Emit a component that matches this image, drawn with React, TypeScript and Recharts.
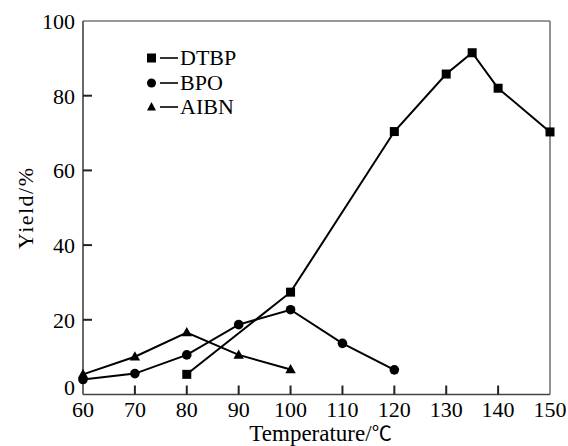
import { Line, LineChart, ReferenceLine, XAxis, YAxis } from "recharts";

const xTicks = [60, 70, 80, 90, 100, 110, 120, 130, 140, 150];
const yTicks = [0, 20, 40, 60, 80, 100];

const dtbpTemps = [80, 100, 120, 130, 135, 140, 150];
const dtbpYield = [5.4, 27.4, 70.4, 85.8, 91.5, 82, 70.3];

const bpoTemps = [60, 70, 80, 90, 100, 110, 120];
const bpoYield = [4, 5.6, 10.6, 18.7, 22.7, 13.7, 6.6];

const aibnTemps = [60, 70, 80, 90, 100];
const aibnYield = [5.4, 10.1, 16.6, 10.6, 6.7];

const toRows = (temps: number[], ys: number[]) =>
  temps.map((t, i) => ({ t, y: ys[i] }));

const FONT = "'Liberation Serif', 'Times New Roman', serif";
const AXIS = "#444";
const GAP_X = 14;
const GAP_Y = 8;
const FS = 22;

// ticks point into the plot, so each tick draws its own mark
const XTick = (props: any) => {
  const x = Number(props.x);
  const y = Number(props.y);
  const axisY = y - GAP_X;
  const last = props.payload.value === 150 || props.payload.value === 60;
  return (
    <g>
      {!last && (
        <line x1={x} x2={x} y1={axisY} y2={axisY - 9} stroke="#222" strokeWidth={2} />
      )}
      <text x={x} y={y + 8.5} textAnchor="middle" fill="#000" fontSize={FS} fontFamily={FONT}>
        {props.payload.value}
      </text>
    </g>
  );
};

const YTick = (props: any) => {
  const x = Number(props.x);
  const y = Number(props.y);
  const axisX = x + GAP_Y;
  const v = props.payload.value;
  const dy = v === 0 ? -8 : 0;
  return (
    <g>
      {v !== 0 && v !== 100 && (
        <line x1={axisX} x2={axisX + 9} y1={y} y2={y} stroke="#222" strokeWidth={2} />
      )}
      <text x={x} y={y + 8 + dy} textAnchor="end" fill="#000" fontSize={FS} fontFamily={FONT}>
        {v}
      </text>
    </g>
  );
};

const XLabel = (props: any) => {
  const { viewBox } = props;
  const cx = viewBox.x + viewBox.width / 2 + 4;
  return (
    <text x={cx} y={441} textAnchor="middle" fill="#000" fontSize={23} fontFamily={FONT}>
      Temperature/
      <tspan fontFamily="'Noto Sans CJK SC', sans-serif" fontSize={20}>
        ℃
      </tspan>
    </text>
  );
};

const Square = (props: any) => {
  const { cx, cy, index } = props;
  return <rect key={index} x={cx - 4.5} y={cy - 4.5} width={9} height={9} fill="#000" />;
};
const Dot = (props: any) => {
  const { cx, cy, index } = props;
  return <circle key={index} cx={cx} cy={cy} r={4.8} fill="#000" />;
};
const Tri = (props: any) => {
  const { cx, cy, index } = props;
  return (
    <polygon
      key={index}
      points={`${cx},${cy - 5.5} ${cx - 5.2},${cy + 3.8} ${cx + 5.2},${cy + 3.8}`}
      fill="#000"
    />
  );
};

const legendItems = [
  { name: "DTBP", shape: "square" },
  { name: "BPO", shape: "circle" },
  { name: "AIBN", shape: "triangle" },
];

const LegendBox = () => (
  <div
    style={{
      position: "absolute",
      left: 146,
      top: 46,
      fontFamily: FONT,
      fontSize: FS,
      lineHeight: "24.5px",
      color: "#000",
    }}
  >
    {legendItems.map((it) => (
      <div key={it.name} style={{ display: "flex", alignItems: "center", height: 24.5 }}>
        <svg width={34} height={24} style={{ display: "block" }}>
          {it.shape === "square" && <rect x={1} y={7.5} width={9} height={9} fill="#000" />}
          {it.shape === "circle" && <circle cx={5.5} cy={12} r={4.5} fill="#000" />}
          {it.shape === "triangle" && <polygon points="5.5,7 1,15.5 10,15.5" fill="#000" />}
          <line x1={14} x2={32} y1={12} y2={12} stroke="#000" strokeWidth={1.6} />
        </svg>
        <span>{it.name}</span>
      </div>
    ))}
  </div>
);

export default function App() {
  return (
    <div style={{ position: "absolute", left: 0, top: 0, width: 568, height: 446 }}>
      <LineChart
        width={568}
        height={446}
        margin={{ top: 21, right: 18, bottom: 21.5, left: 23 }}
      >
        <XAxis
          type="number"
          dataKey="t"
          domain={[60, 150]}
          ticks={xTicks}
          height={30}
          tickSize={0}
          tickMargin={GAP_X}
          tickLine={false}
          axisLine={{ stroke: AXIS, strokeWidth: 1.6 }}
          tick={<XTick />}
          label={<XLabel />}
        />
        <YAxis
          type="number"
          domain={[0, 100]}
          ticks={yTicks}
          width={60}
          tickSize={0}
          tickMargin={GAP_Y}
          tickLine={false}
          axisLine={{ stroke: AXIS, strokeWidth: 1.6 }}
          tick={<YTick />}
          label={{
            value: "Yield/%",
            angle: -90,
            position: "insideLeft",
            offset: 2,
            fill: "#000",
            fontSize: FS,
            fontFamily: FONT,
            letterSpacing: 1.5,
            style: { textAnchor: "middle" },
          }}
        />
        <ReferenceLine y={100} stroke="#777" strokeWidth={1.6} />
        <ReferenceLine x={150} stroke="#777" strokeWidth={1.6} />
        <Line
          data={toRows(dtbpTemps, dtbpYield)}
          dataKey="y"
          name="DTBP"
          stroke="#000"
          strokeWidth={2}
          dot={Square}
          isAnimationActive={false}
        />
        <Line
          data={toRows(bpoTemps, bpoYield)}
          dataKey="y"
          name="BPO"
          stroke="#000"
          strokeWidth={2}
          dot={Dot}
          isAnimationActive={false}
        />
        <Line
          data={toRows(aibnTemps, aibnYield)}
          dataKey="y"
          name="AIBN"
          stroke="#000"
          strokeWidth={2}
          dot={Tri}
          isAnimationActive={false}
        />
      </LineChart>
      <LegendBox />
    </div>
  );
}
